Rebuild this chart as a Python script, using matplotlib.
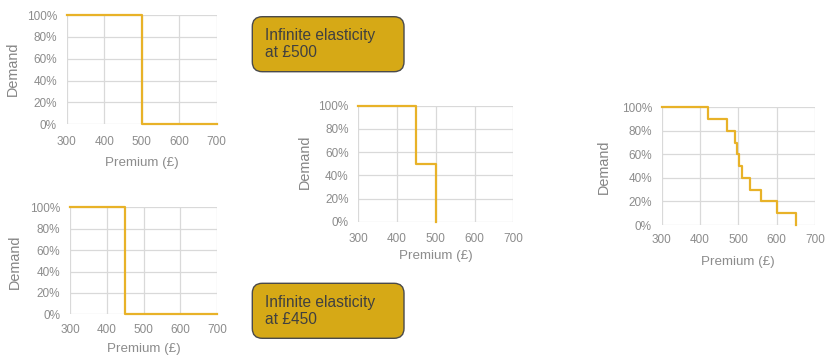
import matplotlib
matplotlib.use("Agg")
import matplotlib.pyplot as plt
from matplotlib.patches import FancyBboxPatch

plt.rcParams['font.family'] = ['Liberation Sans', 'DejaVu Sans']

# Data
premium_500 = [300, 500, 700]
demand_500 = [100, 0, 0]
premium_450 = [300, 450, 700]
demand_450 = [100, 0, 0]
premium_two = [300, 450, 500]
demand_two = [100, 50, 0]
premium_many = [300, 420, 470, 490, 496, 502, 510, 530, 560, 600, 650]
demand_many = [100, 90, 80, 70, 60, 50, 40, 30, 20, 10, 0]
x_ticks = [300, 400, 500, 600, 700]
y_ticks = [0, 20, 40, 60, 80, 100]
y_tick_labels = ["0%", "20%", "40%", "60%", "80%", "100%"]
box_texts = ["Infinite elasticity\nat £500", "Infinite elasticity\nat £450"]

W, H = 829, 359
fig = plt.figure(figsize=(W / 100, H / 100), dpi=100)

LINE = '#E8B228'
GRID = '#d9d9d9'
TXT = '#8c8c8c'


def make_ax(left, top, right, bottom, xs, ys, tpad, xlab_y, ylab_x, ylab_y):
    ax = fig.add_axes([left / W, 1 - bottom / H, (right - left) / W, (bottom - top) / H])
    ax.step(xs, ys, where='post', color=LINE, lw=1.6, clip_on=False, zorder=3)
    ax.set_xlim(300, 700)
    ax.set_ylim(0, 100)
    ax.set_xticks(x_ticks)
    ax.set_yticks(y_ticks)
    ax.set_yticklabels(y_tick_labels)
    ax.grid(True, color=GRID, lw=0.9)
    for s in ax.spines.values():
        s.set_visible(False)
    ax.tick_params(length=0, labelsize=8.5, colors=TXT)
    ax.tick_params(axis='x', pad=tpad)
    ax.tick_params(axis='y', pad=7)
    fig.text((left + right) / 2 / W, 1 - xlab_y / H, "Premium (£)", fontsize=9.6,
             color=TXT, ha='center', va='center')
    fig.text(ylab_x / W, 1 - ylab_y / H, "Demand", fontsize=10.4, color='#858585',
             ha='center', va='center', rotation=90)
    return ax


make_ax(66.7, 15, 216.7, 124.3, premium_500, demand_500, 8.5, 162.7, 13.3, 69)
make_ax(70, 207.3, 217.3, 314.3, premium_450, demand_450, 7, 349, 15, 261.7)
make_ax(358.3, 105.7, 513.3, 221.7, premium_two, demand_two, 8, 255.7, 305, 161.7)
make_ax(661.7, 107.3, 815, 225, premium_many, demand_many, 6.5, 261.7, 604, 166.7)

for (top, bottom), txt in zip([(16.7, 71.7), (283.3, 338.3)], box_texts):
    left, right = 252.3, 404
    box = FancyBboxPatch((left / W, 1 - bottom / H), (right - left) / W, (bottom - top) / H,
                         boxstyle="round,pad=0,rounding_size=0.012",
                         transform=fig.transFigure, facecolor='#D6A916',
                         edgecolor='#4a4a4a', lw=1.0, mutation_aspect=W / H)
    fig.add_artist(box)
    fig.text(265 / W, 1 - (top + 27.5) / H, txt, fontsize=11.2, color='#404040',
             va='center', ha='left', linespacing=1.2)

fig.savefig("out.png", dpi=100)
